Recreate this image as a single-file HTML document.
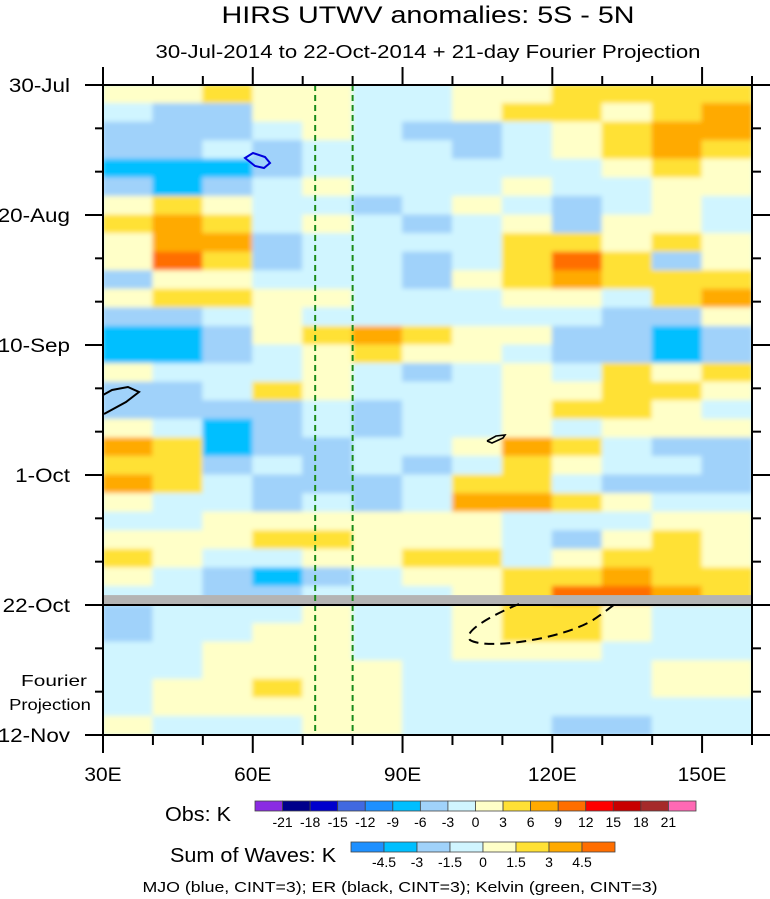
<!DOCTYPE html>
<html><head><meta charset="utf-8">
<style>
html,body{margin:0;padding:0;background:#fff;}
svg{display:block;font-family:"Liberation Sans",sans-serif;}
</style></head>
<body>
<svg id="chart" width="770" height="899" viewBox="0 0 770 899" xmlns="http://www.w3.org/2000/svg">
<defs>
<clipPath id="plotclip"><rect x="103" y="85" width="649" height="650"/></clipPath>
<filter id="soft" x="-5%" y="-5%" width="110%" height="110%"><feGaussianBlur stdDeviation="2.5"/></filter>
</defs>
<text id="title" x="428" y="23" font-size="24" text-anchor="middle" textLength="413" lengthAdjust="spacingAndGlyphs">HIRS UTWV anomalies: 5S - 5N</text>
<text id="subtitle" x="428" y="58" font-size="18" text-anchor="middle" textLength="545" lengthAdjust="spacingAndGlyphs">30-Jul-2014 to 22-Oct-2014 + 21-day Fourier Projection</text>
<g id="plot" clip-path="url(#plotclip)">
<rect x="103" y="85" width="649" height="650" fill="#d0f5ff"/>
<g id="cells" filter="url(#soft)"></g>
<g id="overlays"></g>
</g>
<g id="axes"></g>
<g id="legend"></g>
<text x="400" y="892" font-size="15" text-anchor="middle" textLength="515" lengthAdjust="spacingAndGlyphs">MJO (blue, CINT=3); ER (black, CINT=3); Kelvin (green, CINT=3)</text>
</svg>
<script>
// Longitude categories (column centers, degrees E)
const lons = [35,45,55,65,75,85,95,105,115,125,135,145,155];
// Observed anomalies (K), rows every 3 days starting 30-Jul
const obsStartDays = [0,3,6,9,12,15,18,21,24,27,30,33,36,39,42,45,48,51,54,57,60,63,66,69,72,75,78,81];
const obsValues = [
[1,1,4,1,1,-1,-1,1,1,4,4,4,4],
[-1,-4,-4,1,1,-1,-1,1,4,4,1,4,7],
[-4,-4,-4,-1,1,-1,-4,-4,-1,1,4,7,7],
[-4,-4,-1,-4,-1,-1,-1,-4,-1,1,4,7,4],
[-7,-7,-7,-4,-1,-1,-1,-1,-1,-1,1,4,1],
[-4,-7,-4,-1,1,-1,-1,-1,1,-1,-1,1,1],
[1,4,1,-1,-1,-4,-1,1,-1,-4,-1,1,-1],
[4,7,4,-1,1,-1,-4,-1,1,-4,1,1,-1],
[1,7,7,-4,-1,-1,-1,-1,4,4,1,4,1],
[1,10,4,-4,-1,-1,-4,-1,4,10,4,-4,1],
[-4,1,1,-1,-1,-1,-4,1,4,7,4,4,4],
[1,4,4,1,1,-1,-1,-1,1,1,-1,4,7],
[-4,-4,-1,1,-1,-1,-1,-1,-1,-1,-4,-4,1],
[-7,-7,-4,1,4,7,4,1,1,-4,-4,-7,-4],
[-7,-7,-4,-1,1,4,1,1,-1,-4,-4,-7,-4],
[1,-1,-1,-1,1,-1,-4,-1,1,-1,4,1,4],
[-4,-4,-1,4,1,-1,-1,-1,1,1,4,4,1],
[-4,-4,-4,-4,-1,-4,-1,-1,1,4,4,1,-1],
[1,-1,-7,-4,-1,-4,-1,-1,1,-1,1,1,1],
[7,4,-7,-4,-4,-1,-1,1,7,4,-1,-4,-4],
[4,4,-4,-1,-4,-1,-4,-1,4,1,-1,-1,-4],
[7,4,-1,-4,-4,-4,-1,4,4,-1,-4,-4,-4],
[1,-1,-1,-4,-1,-4,-1,7,7,4,1,-1,-1],
[-1,-1,1,1,1,1,1,1,-1,-1,-1,1,1],
[1,1,1,4,4,1,1,1,-1,-4,1,4,1],
[4,1,-1,-1,1,1,4,4,-1,1,4,4,1],
[1,-1,-4,-7,-4,-1,1,1,4,4,7,4,4],
[-1,-1,-4,-4,-1,-1,-1,1,4,10,10,7,4]
];
// Fourier projection (sum of waves, K), rows every 3 days starting 22-Oct
const fcStartDays = [84,87,90,93,96,99,102];
const fcValues = [
[-2,-0.7,-0.7,-0.7,0.7,-0.7,-0.7,0.7,2,2,0.7,-0.7,-0.7],
[-2,-0.7,-0.7,0.7,0.7,-0.7,-0.7,0.7,2,2,0.7,-0.7,-0.7],
[-0.7,-0.7,0.7,0.7,0.7,-0.7,-0.7,0.7,0.7,0.7,-0.7,-0.7,-0.7],
[-0.7,-0.7,0.7,0.7,0.7,0.7,-0.7,-0.7,-0.7,-0.7,-0.7,0.7,0.7],
[-0.7,0.7,0.7,2,0.7,0.7,-0.7,-0.7,-0.7,-0.7,-0.7,0.7,0.7],
[-0.7,0.7,0.7,0.7,0.7,0.7,-0.7,-0.7,-0.7,-0.7,-0.7,-0.7,-0.7],
[0.7,-0.7,-0.7,-0.7,0.7,0.7,-0.7,-0.7,-0.7,-2,-2,-0.7,-0.7]
];
const obsLevelLabels = [-21,-18,-15,-12,-9,-6,-3,0,3,6,9,12,15,18,21];
const obsColors = ["#8a2be2","#00008b","#0000cd","#4169e1","#1e90ff","#00bfff","#a0d2fa","#d0f5ff","#ffffc8","#ffe135","#ffaa00","#ff6e00","#ff0000","#c80000","#a52a2a","#ff69b4"];
const fcLevelLabels = [-4.5,-3,-1.5,0,1.5,3,4.5];
const fcColors = ["#1e90ff","#00bfff","#a0d2fa","#d0f5ff","#ffffc8","#ffe135","#ffaa00","#ff6e00"];
const dateTicks = ["30-Jul","20-Aug","10-Sep","1-Oct","22-Oct","12-Nov"];
const dateTickDays = [0,21,42,63,84,105];
const lonTickLabels = ["30E","60E","90E","120E","150E"];
const lonTickValues = [30,60,90,120,150];

const NS="http://www.w3.org/2000/svg";
const X0=103,X1=752,Y0=85,Y1=735;
const xScale = lon => X0 + (lon-30)*(X1-X0)/130;
const yScale = d => Y0 + d*(Y1-Y0)/105;
function mk(tag, attrs, parent){const e=document.createElementNS(NS,tag);for(const k in attrs)e.setAttribute(k,attrs[k]);parent.appendChild(e);return e;}
function widen(el,f){const w=el.getComputedTextLength();el.setAttribute('textLength',(w*f).toFixed(1));el.setAttribute('lengthAdjust','spacingAndGlyphs');}
function colorFor(v, levels, colors){let i=0;while(i<levels.length && v>=levels[i])i++;return colors[i];}

const cells=document.getElementById('cells');
obsValues.forEach((row,r)=>{row.forEach((v,c)=>{
  const x=xScale(lons[c]-5), y=yScale(obsStartDays[r]);
  const rc=mk('rect',{x:x-0.5,y:y-0.5,width:xScale(lons[c]+5)-x+1,height:yScale(obsStartDays[r]+3)-y+1,fill:colorFor(v,obsLevelLabels,obsColors)},cells);
  
  
});});
fcValues.forEach((row,r)=>{row.forEach((v,c)=>{
  const x=xScale(lons[c]-5), y=yScale(fcStartDays[r]);
  const rc=mk('rect',{x:x-0.5,y:y-0.5,width:xScale(lons[c]+5)-x+1,height:yScale(fcStartDays[r]+3)-y+1,fill:colorFor(v,fcLevelLabels,fcColors)},cells);
  
  
});});

const ov=document.getElementById('overlays');
let e;
e=mk('rect',{x:X0,y:yScale(82.4),width:X1-X0,height:yScale(84)-yScale(82.4),fill:"#b4b4b4"},ov);


[72.5,80].forEach(l=>{
  e=mk('line',{x1:xScale(l),x2:xScale(l),y1:Y0,y2:Y1,stroke:"#1a8c1a","stroke-width":2,"stroke-dasharray":"6,4"},ov);
  
  
});
e=mk('polygon',{points:"245,158 253,153 265,157 270,163 264,168 255,166",fill:"none",stroke:"#0000dd","stroke-width":2},ov);


e=mk('polyline',{points:"103,395 112,390 128,387 139,392 126,402 104,414",fill:"none",stroke:"#000","stroke-width":2},ov);


e=mk('polyline',{points:"487,441 496,436 505,435 503,438 492,443 487,441",fill:"none",stroke:"#000","stroke-width":1.6},ov);


e=mk('path',{d:"M519,604 C490,616 462,632 470,640 C485,650 560,640 593,620 C605,612 612,606 618,602",fill:"none",stroke:"#000","stroke-width":2,"stroke-dasharray":"10,6"},ov);



const ax=document.getElementById('axes');
e=mk('rect',{x:X0,y:Y0,width:X1-X0,height:Y1-Y0,fill:"none",stroke:"#000","stroke-width":2},ax);


e=mk('line',{x1:85,x2:770,y1:yScale(84),y2:yScale(84),stroke:"#000","stroke-width":2},ax);


for(let d=0; d<=105; d+=7){
  const y=yScale(d), major=(d%21===0);
  e=mk('line',{x1:major?85:95,x2:X0,y1:y,y2:y,stroke:"#000","stroke-width":2},ax);
  
  
  e=mk('line',{x1:X1,x2:major?770:761,y1:y,y2:y,stroke:"#000","stroke-width":2},ax);
  
  
}
dateTicks.forEach((t,i)=>{
  e=mk('text',{x:70,y:yScale(dateTickDays[i])+7,"font-size":19,"text-anchor":"end"},ax);
  e.textContent=t;
  
  
  widen(e,1.18);
});
for(let l=30;l<=160;l+=10){
  const x=xScale(l), major=(l%30===0);
  e=mk('line',{x1:x,x2:x,y1:Y1,y2:major?753:745,stroke:"#000","stroke-width":2},ax);
  
  
  e=mk('line',{x1:x,x2:x,y1:Y0,y2:major?67:76,stroke:"#000","stroke-width":2},ax);
  
  
}
lonTickLabels.forEach((t,i)=>{
  e=mk('text',{x:xScale(lonTickValues[i]),y:781,"font-size":19,"text-anchor":"middle"},ax);
  e.textContent=t;
  
  
  widen(e,1.1);
});
e=mk('text',{x:54,y:686,"font-size":16,"text-anchor":"middle"},ax);
e.textContent="Fourier";


widen(e,1.3);
e=mk('text',{x:50,y:710,"font-size":16,"text-anchor":"middle"},ax);
e.textContent="Projection";


widen(e,1.15);

const lg=document.getElementById('legend');
e=mk('text',{x:165,y:821,"font-size":20},lg);
e.textContent="Obs: K";


widen(e,1.08);
const ow=(696-255)/obsColors.length;
obsColors.forEach((c,i)=>{
  e=mk('rect',{x:255+i*ow,y:801,width:ow,height:10,fill:c,stroke:"#444","stroke-width":0.8},lg);
  
  
});
obsLevelLabels.forEach((t,i)=>{
  e=mk('text',{x:255+(i+1)*ow,y:827,"font-size":14,"text-anchor":"middle"},lg);
  e.textContent=t;
  
  
});
e=mk('text',{x:170,y:862,"font-size":20},lg);
e.textContent="Sum of Waves: K";


widen(e,1.08);
const fw=(615-351)/fcColors.length;
fcColors.forEach((c,i)=>{
  e=mk('rect',{x:351+i*fw,y:842,width:fw,height:10,fill:c,stroke:"#444","stroke-width":0.8},lg);
  
  
});
fcLevelLabels.forEach((t,i)=>{
  e=mk('text',{x:351+(i+1)*fw,y:867,"font-size":14,"text-anchor":"middle"},lg);
  e.textContent=t;
  
  
});
</script>
</body></html>
